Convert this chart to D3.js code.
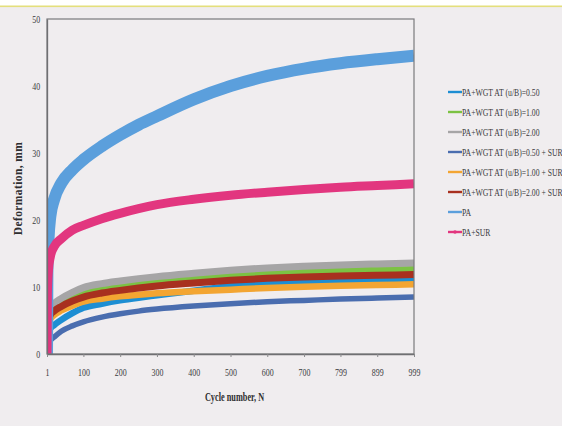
<!DOCTYPE html>
<html>
<head>
<meta charset="utf-8">
<script src="https://cdn.jsdelivr.net/npm/d3@7"></script>
<style>
  html, body { margin: 0; padding: 0; background: #ffffff; }
  #chart { width: 562px; height: 426px; overflow: hidden; }
  text { font-family: "Liberation Serif", "Times New Roman", serif; }
</style>
</head>
<body>
<div id="chart"></div>
<script>
const cycles = [1, 2, 5, 10, 20, 40, 70, 100, 150, 200, 250, 300, 400, 500, 600, 700, 799, 899, 999];

// deformation (mm) per series
const wgt050    = [0, 2.0, 3.0, 3.8, 4.3, 5.1, 6.1, 6.9, 7.5, 8.0, 8.4, 8.75, 9.45, 10.1, 10.5, 10.75, 10.95, 11.1, 11.2];
const wgt100    = [0, 4.0, 5.5, 6.3, 7.0, 7.8, 8.6, 9.1, 9.7, 10.1, 10.45, 10.75, 11.25, 11.7, 12.05, 12.3, 12.5, 12.6, 12.7];
const wgt200    = [0, 4.5, 6.0, 6.8, 7.5, 8.3, 9.2, 9.9, 10.5, 10.9, 11.25, 11.55, 12.05, 12.5, 12.85, 13.1, 13.3, 13.45, 13.6];
const wgt050Sur = [0, 0.7, 1.3, 2.0, 2.5, 3.4, 4.2, 4.8, 5.5, 6.0, 6.4, 6.7, 7.15, 7.5, 7.8, 8.0, 8.2, 8.35, 8.5];
const wgt100Sur = [0, 3.0, 4.5, 5.2, 5.8, 6.5, 7.2, 7.8, 8.25, 8.6, 8.85, 9.05, 9.35, 9.6, 9.85, 10.05, 10.2, 10.3, 10.4];
const wgt200Sur = [0, 3.5, 5.0, 5.8, 6.4, 7.1, 7.9, 8.5, 9.1, 9.5, 9.85, 10.15, 10.6, 11.0, 11.3, 11.5, 11.65, 11.75, 11.85];
const paOnly    = [0, 12.0, 17.0, 20.5, 23.0, 25.5, 27.5, 29.0, 31.0, 32.7, 34.2, 35.5, 38.0, 40.0, 41.5, 42.6, 43.4, 44.0, 44.5];
const paSur     = [0, 9.0, 12.5, 14.5, 16.0, 17.2, 18.5, 19.2, 20.2, 21.0, 21.7, 22.3, 23.1, 23.7, 24.15, 24.55, 24.9, 25.15, 25.4];

const seriesNames = [
  "PA+WGT AT (u/B)=0.50",
  "PA+WGT AT (u/B)=1.00",
  "PA+WGT AT (u/B)=2.00",
  "PA+WGT AT (u/B)=0.50 + SUR",
  "PA+WGT AT (u/B)=1.00 + SUR",
  "PA+WGT AT (u/B)=2.00 + SUR",
  "PA",
  "PA+SUR"
];
const seriesValues = [wgt050, wgt100, wgt200, wgt050Sur, wgt100Sur, wgt200Sur, paOnly, paSur];
const seriesColors = ["#1d8ed3", "#7cc243", "#a6a5a6", "#4a6daf", "#f3a532", "#a8301f", "#5b9fdc", "#e2367f"];
const bandWidths   = [6.5, 6, 7, 5.5, 6.5, 7, 12, 9];

const xTickValues = [1, 100, 200, 300, 400, 500, 600, 700, 799, 899, 999];
const yTickValues = [0, 10, 20, 30, 40, 50];

const margin = { top: 19, right: 148, bottom: 72, left: 47 };
const W = 562, H = 426;
const width = W - margin.left - margin.right;
const height = H - margin.top - margin.bottom;

const svg = d3.select("#chart").append("svg")
    .attr("width", W)
    .attr("height", H);

// paper background and the yellow edge at the top
svg.append("rect").attr("width", W).attr("height", H).attr("fill", "#f0edef");
svg.append("rect").attr("width", W).attr("height", 6).attr("fill", "#ffffff");
svg.append("rect").attr("y", 5.5).attr("width", W).attr("height", 1.6).attr("fill", "#e4df7c");

const g = svg.append("g").attr("transform", `translate(${margin.left},${margin.top})`);

const x = d3.scaleLinear().domain([1, 999]).range([0, width]);
const y = d3.scaleLinear().domain([0, 50]).range([height, 0]);

g.append("defs").append("clipPath").attr("id", "plot-clip")
  .append("rect").attr("x", 0).attr("y", -2).attr("width", width).attr("height", height + 2);

// series bands
const line = d3.line()
    .x(d => x(d.n))
    .y(d => y(d.v))
    .curve(d3.curveMonotoneX);

const plot = g.append("g").attr("clip-path", "url(#plot-clip)");
seriesValues.forEach((vals, i) => {
    const pts = cycles.map((n, j) => ({ n: n, v: vals[j] }));
    plot.append("path")
        .datum(pts)
        .attr("fill", "none")
        .attr("stroke", seriesColors[i])
        .attr("stroke-width", bandWidths[i])
        .attr("stroke-linejoin", "round")
        .attr("d", line);
});

// frame
g.append("rect")
    .attr("width", width)
    .attr("height", height)
    .attr("fill", "none")
    .attr("stroke", "#7a7a7c")
    .attr("stroke-width", 1.2);

// axes
const xAxis = g.append("g")
    .attr("transform", `translate(0,${height})`)
    .call(d3.axisBottom(x).tickValues(xTickValues).tickSize(3).tickSizeOuter(0).tickFormat(d3.format("d")));
xAxis.select(".domain").attr("stroke", "#6f6f72").attr("stroke-width", 1.3);
xAxis.selectAll(".tick line").attr("stroke", "#8a8a8c");
xAxis.selectAll(".tick text")
    .attr("y", 14)
    .attr("dy", "0.71em")
    .attr("fill", "#3a3a3c")
    .style("font-size", "11px")
    .attr("transform", "scale(0.72,1)");

const yAxis = g.append("g")
    .call(d3.axisLeft(y).tickValues(yTickValues).tickSize(0).tickFormat(d3.format("d")));
yAxis.select(".domain").attr("stroke", "#6f6f72").attr("stroke-width", 1.3);
yAxis.selectAll(".tick text")
    .attr("x", -9.5)
    .attr("fill", "#3a3a3c")
    .style("font-size", "11px")
    .attr("transform", "scale(0.72,1)");

// axis titles
g.append("text")
    .attr("transform", `translate(${width / 2 + 4},${height + 47}) scale(0.72,1)`)
    .attr("text-anchor", "middle")
    .attr("fill", "#2e2e30")
    .style("font-size", "11.5px")
    .style("font-weight", "bold")
    .text("Cycle number,  N");

g.append("text")
    .attr("transform", `translate(${-25},${height / 2 + 2}) rotate(-90)`)
    .attr("text-anchor", "middle")
    .attr("fill", "#2e2e30")
    .style("font-size", "11.5px")
    .style("font-weight", "bold")
    .style("letter-spacing", "0.4px")
    .text("Deformation,  mm");

// legend (text is condensed like the printed figure; long names run past the right edge)
const legend = svg.append("g").attr("transform", "translate(448,92)");
seriesNames.forEach((name, i) => {
    const row = legend.append("g").attr("transform", `translate(0,${i * 20})`);
    row.append("line")
        .attr("x1", 0).attr("x2", 14)
        .attr("stroke", seriesColors[i])
        .attr("stroke-width", 2.4);
    if (name === "PA+SUR") {
        row.append("circle").attr("cx", 7).attr("r", 1.8).attr("fill", seriesColors[i]);
    }
    row.append("text")
        .attr("transform", "translate(14,0) scale(0.7,1)")
        .attr("dy", "0.35em")
        .attr("fill", "#3a3a3c")
        .style("font-size", "11px")
        .text(name);
});
</script>
</body>
</html>
